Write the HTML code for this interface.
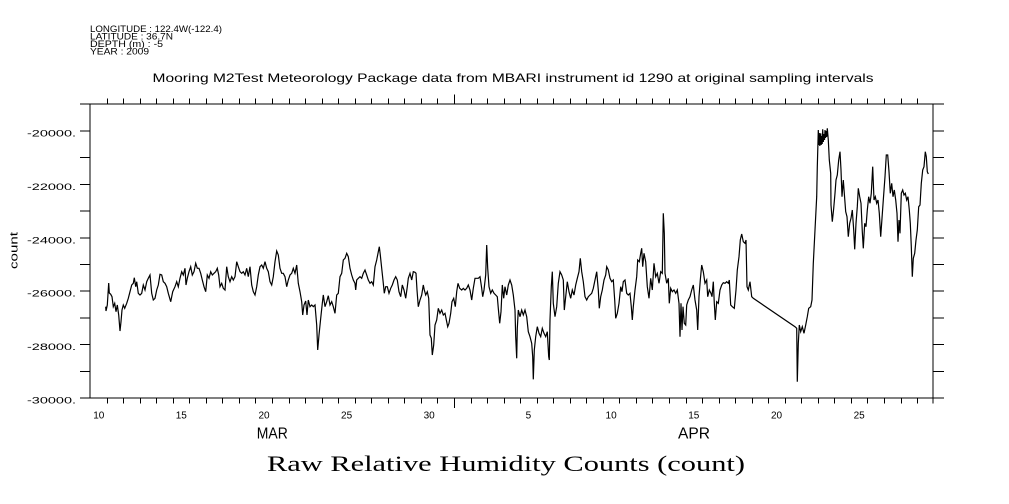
<!DOCTYPE html>
<html><head><meta charset="utf-8"><style>
html,body{margin:0;padding:0;background:#fff;}
svg{display:block;}
text{font-family:"Liberation Sans",sans-serif;fill:#000;}
</style></head><body>
<svg width="1009" height="504" viewBox="0 0 1009 504" xmlns="http://www.w3.org/2000/svg">
<rect x="0" y="0" width="1009" height="504" fill="#fff"/>
<!-- header -->
<g font-size="9.5">
<text x="90" y="32" textLength="132" lengthAdjust="spacingAndGlyphs">LONGITUDE : 122.4W(-122.4)</text>
<text x="90" y="39.5" textLength="83" lengthAdjust="spacingAndGlyphs">LATITUDE : 36.7N</text>
<text x="90" y="47" textLength="73" lengthAdjust="spacingAndGlyphs">DEPTH (m) : -5</text>
<text x="90" y="54.5" textLength="59" lengthAdjust="spacingAndGlyphs">YEAR : 2009</text>
</g>
<text x="152.5" y="82" font-size="12" textLength="721" lengthAdjust="spacingAndGlyphs">Mooring M2Test Meteorology Package data from MBARI instrument id 1290 at original sampling intervals</text>

<!-- axes -->
<g stroke="#000" stroke-width="1" shape-rendering="crispEdges" fill="none">
<rect x="90" y="104" width="843" height="294"/>
<path d="M80,398H90M80,371.3H90M80,344.6H90M80,317.9H90M80,291.2H90M80,264.5H90M80,237.8H90M80,211.1H90M80,184.4H90M80,157.7H90M80,131H90M80,104H90"/>
<path d="M933,398H944M933,371.3H944M933,344.6H944M933,317.9H944M933,291.2H944M933,264.5H944M933,237.8H944M933,211.1H944M933,184.4H944M933,157.7H944M933,131H944M933,104H944"/>
<path d="M933,398V403.5"/>
</g>
<g stroke="#000" stroke-width="1" shape-rendering="crispEdges" fill="none" id="xticks"></g>

<!-- y labels -->
<g font-size="9" text-anchor="end">
<text x="76" y="136.5" textLength="49" lengthAdjust="spacingAndGlyphs">-20000.</text>
<text x="76" y="189.9" textLength="49" lengthAdjust="spacingAndGlyphs">-22000.</text>
<text x="76" y="243.3" textLength="49" lengthAdjust="spacingAndGlyphs">-24000.</text>
<text x="76" y="296.7" textLength="49" lengthAdjust="spacingAndGlyphs">-26000.</text>
<text x="76" y="350.1" textLength="49" lengthAdjust="spacingAndGlyphs">-28000.</text>
<text x="76" y="403.5" textLength="49" lengthAdjust="spacingAndGlyphs">-30000.</text>
</g>
<text transform="translate(17.5,250.5) rotate(-90)" font-size="11" text-anchor="middle" textLength="37" lengthAdjust="spacingAndGlyphs">count</text>

<!-- x labels -->
<g font-size="10" text-anchor="middle">
<text x="98.8" y="418.5">10</text>
<text x="181.3" y="418.5">15</text>
<text x="264" y="418.5">20</text>
<text x="346.6" y="418.5">25</text>
<text x="429.2" y="418.5">30</text>
<text x="528.4" y="418.5">5</text>
<text x="611.1" y="418.5">10</text>
<text x="693.8" y="418.5">15</text>
<text x="776.5" y="418.5">20</text>
<text x="859.2" y="418.5">25</text>
</g>
<text x="272.3" y="438.5" font-size="16" text-anchor="middle" textLength="31" lengthAdjust="spacingAndGlyphs">MAR</text>
<text x="694" y="438.5" font-size="16" text-anchor="middle" textLength="32" lengthAdjust="spacingAndGlyphs">APR</text>

<text x="267" y="471" font-size="22" style="font-family:'Liberation Serif',serif" textLength="478" lengthAdjust="spacingAndGlyphs">Raw Relative Humidity Counts (count)</text>

<!-- data -->
<polyline fill="none" stroke="#000" stroke-width="1.2" stroke-linejoin="miter" points="
105.7,306.7 106,311 107.3,305 108.7,283 109.3,293 110.7,294.3 112,296.7 113.3,306.7 114.7,303.3 116,311.7 117.3,305 118.7,315 120,331 121,321.7 122,310 123.3,305 124.7,308.3 126.7,303.3 128.3,298.3 130,291.7 131.7,285 133.3,283.3 134.3,277.7 135.7,286.7 136.7,281.7 138.3,293.3 140,295 141.7,293.3 143.3,285 145,290 146.7,281.7 148.3,278.3 150,275 151.7,293.3 153.3,300 155,298.3 156.7,290 158.3,285 160,274.3 161.7,275 163.3,281.7 165,283.3 166.7,286.7 168.3,293.3 170.7,301.7 172.7,291.7 175,286.7 176.7,281.7 178.3,286.7 180,278.3 181.7,271.7 183.3,275 185,268.3 186,285 187.3,278.3 189,271.7 190.7,266.7 192.3,275 194,271.7 195.7,263.3 197.3,268.3 199,268.3 200.7,273.3 202.3,280 204,286.7 205.7,291.7 207.3,275 209,278.3 210.7,271.7 212.3,275 214,273.3 215.7,271.7 217.3,268.3 218.7,275 220,286.7 221.7,283.3 223.3,288.3 225,290 226.7,266.7 228.3,276.7 230,281.7 231.7,276.7 233.3,280 235,276.7 236.7,261.7 238.3,266.7 240,271.7 241.7,273.3 243.3,271.7 245,275 246.7,268.3 248.3,276.7 250,266.7 251.7,285 253.3,291.7 255,295 256.7,286.7 258.3,275 260,266.7 261.7,265 263.3,268.3 265,261.7 266.7,268.3 268.3,271.7 270,281.7 271.7,285 273.3,276.7 275,261.7 276.7,251 278.3,255 280,268.3 281.7,273.3 283.3,273.3 285,276.7 286.7,286.7 288.3,280 290,275 291.7,273.3 293.3,268.3 295,273.3 296.7,265 298.3,283.3 300,291.7 301.7,301.7 302.7,315 304,305
305.7,301 307,315 308.3,300 310,306.7 311.7,305 313.3,306.7 315,305 316.7,325 317.7,350 319,335 320.7,318.3 322.3,303.3 323.3,295 325,306.7 326.7,301.7 328.3,295.7 330,305 331.7,301.7 333.3,306.7 335,313.3 336.7,295 338.3,293.3 340,276.7 341.7,273.3 343.3,260 345,258.3 346.7,253.3 348.3,256.7 350,268.3 351.7,275 353.3,280 355,283.3 355.7,290 356.7,280 358.3,278.3 360,276.7 361.7,278.3 363.3,273.3 365,270 366.7,275 368.3,280 370,283.3 371.7,281.7 373.3,285 375,266.7 376.7,260 378.3,251.7 379.3,246.7 380.3,255 381.7,268.3 383.3,283.3 384.3,293.3 385.7,286.7 387.3,286.7 389,293.3 390.7,288.3 392.3,285 394,280 395.7,276.7 397.3,280 399,291.7 400.7,296.7 402.3,285 404,290 405.7,298.3 407.3,286.7 408.3,278.3 410,273.3 411.7,280 413.3,271.7 415,272.3 416,273.3 417,290 418.3,306.7 420,300 421.7,295 423.3,285 424.3,290 425.7,295 427.3,291.7 428.7,298.3 430,335 431.3,338.3 432.3,355 433.7,345 435,325 436.7,320 438.3,308.3 440,313.3 441.7,310 443.3,315 445,313.3 446.7,321.7 447.7,326.7 449,323.3 450.7,313.3 452,301.7 453.7,298.3 455.3,306.7 456.7,291.7 458,283.3 459.7,288.3 461.7,290 463.3,288.3 465,290 466.7,288.3 468.3,285 470,290 471.7,300 473.3,288.3 475,278.3 476.7,278.3 478.3,278.3 480,276.7 481.7,288.3 482.7,296.7 484,290 485.7,275 486.7,245 487.7,268.3 489,286.7 490.7,293.3 492.3,290 494,293.3 495.7,295 497.3,296.7 498.3,308.3 499.7,323.3 501,311.7 502.3,285 503.7,298.3 505,286.7 506.7,295 508.3,285 510,280
511.7,285 513.3,295 515,310 515.7,336.7 516.7,358.3 517.3,328.3 518.3,310 520,316.7 521.7,310 523.3,315 525,310 526.7,316.7 528.3,331.7 530,336.7 531.7,343.3 532.7,356.7 533.3,379.3 534.3,350 535.7,336.7 537.3,326.7 539,333.3 540.7,336.7 542.3,328.3 544,333.3 545.7,336.7 547.3,331.7 548.7,356.7 549.3,360 550,320 551.3,286.7 552.3,271.7 553.3,303.3 555,316.7 556.7,306.7 558.3,283.3 560,271.7 561.7,275 563.3,280 564.3,310 565.7,296.7 567.3,281.7 569,291.7 570.7,298.3 572.3,290 574,295 575.7,285 577.3,278.3 579,271.7 580.3,258.3 581.7,271.7 583.3,281.7 585,296.7 586.7,300 588.3,296.7 590,295 591.7,293.3 593.3,288.3 595,280 596.7,271.7 598.3,290 599.3,308.3 600.7,296.7 602.3,290 604,280 605.7,275 606.7,266.7 608.3,270 610,278.3 611.7,281.7 613.3,280 614.7,300 615.7,318.3 617.3,313.3 619,303.3 620.7,286.7 622,291.7 623.3,281.7 625,280 626.7,293.3 628.3,295 630,293.3 631.3,306.7 632.3,320 633.3,306.7 635,290 636.7,276.7 637.7,260 639.3,261.7 640.7,253.3 641.7,248.3 642.7,266.7 644,253.3 645.7,261.7 647.3,286.7 649,298.3 650.7,278.3 652.3,290 654,263.3 655.7,276.7 657.3,273.3 659,283.3 660.7,271.7 662.3,273.3 663.3,213.3 664.3,233.3 665,273.3 666.7,283.3 668.3,278.3 669.3,303.3 670.7,288.3 672.3,291.7 674,290 675.7,293.3 677.3,290 679,303.3 680,336.7 681,303.3 682,330 683,306.7 684.3,323.3 685.7,325 686.7,305 688.3,300 690,296.7 691.7,290 693.3,285 695,300 696.7,310 697.7,330 699,296.7 700.3,280 701.7,265 703.3,271.7 705,283.3 706.7,280 707.7,296.7 709.3,290 711,293.3 712,296.7 713.3,281.7 714.3,303.3 715.3,320
716.7,301.7 718.3,303.3 720,290 721.7,285 723.3,282.7 725,283.3 726.7,281.7 728.3,283.3 729.3,280 730.7,305 732.3,306.7 734.3,308.3 736,290 737.3,270 739,256.7 740.3,240 741.7,234 743.3,241.7 745,243.3 746,240 747,286.7 748.3,290 750,281.7 751.7,296.7 753.3,298.3 795,326.7 796.7,328.3 797.3,381.7 798.3,343.3 799.3,325 800.7,331.7 802.3,326.7 804,333.3 805.7,325 807.3,316.7 808.7,308.3 810.7,306.7 812,300 813.3,263.3 815,230 816.7,196.7 817.3,166.7 818.3,130 818.8,145 819.3,133 819.8,146 820.7,133.3 821.2,145 821.7,136 822.2,144 822.7,129.3 823.3,142 824,134 824.5,140 825,130 825.5,138 826,131 826.6,137 827.3,128.3 828.3,140 829.3,160 830.7,173.3 831,205 832.3,221.7 833.7,208.3 835,193.3 836,180 837.3,175 838.7,160 840,151.7 841,170 842,196.7 843.3,180 844.3,193.3 845.7,211.7 847,216.7 848.3,236.7 849.7,223.3 851,218.3 852.3,210 853.7,230 854.7,249.3 856,223.3 857.3,206.7 858.3,188.3 859.7,196.7 861,203.3 862.3,231.7 863.3,248.3 864.7,223.3 866,226.7 867.3,210 868.7,196.7 870,203.3 871.3,193.3 872.7,166.7 874,200 875.3,196.7 876.7,203.3 878,200 879.3,213.3 880.7,236.7 882,218.3 883.3,200 885,176.7 886.3,155 887.7,155 889,171.7 890.3,193.3 891.7,183.3 893,196.7 894.3,190 895.7,200 897,213.3 898,241.7 899,220 900,233.3 901.3,193.3 902.7,190 904,195 905.3,193.3 906.7,200 908,196.7 909.3,210 910.3,223.3 911.3,246.7 912.3,276.7 913.3,258.3 914.7,253.3 916,240 917.3,230 918.7,206.7 920,205 921.3,183.3 922.7,170 924,166.7 925.3,151.7 926.3,156.7 927.3,171.7 928.3,174"/>
</svg>
<script>
(function(){
  var g=document.getElementById('xticks');
  var d='';
  for(var i=1;i<=50;i++){
    var x=Math.round(90.1+i*16.54)+0.5;
    var lb=(i===22)?408:403.5;
    var lt=(i===22)?94.5:98.5;
    d+='M'+x+',398V'+lb+'M'+x+',104V'+lt;
  }
  var p=document.createElementNS('http://www.w3.org/2000/svg','path');
  p.setAttribute('d',d);
  g.appendChild(p);
})();
</script>
</body></html>
